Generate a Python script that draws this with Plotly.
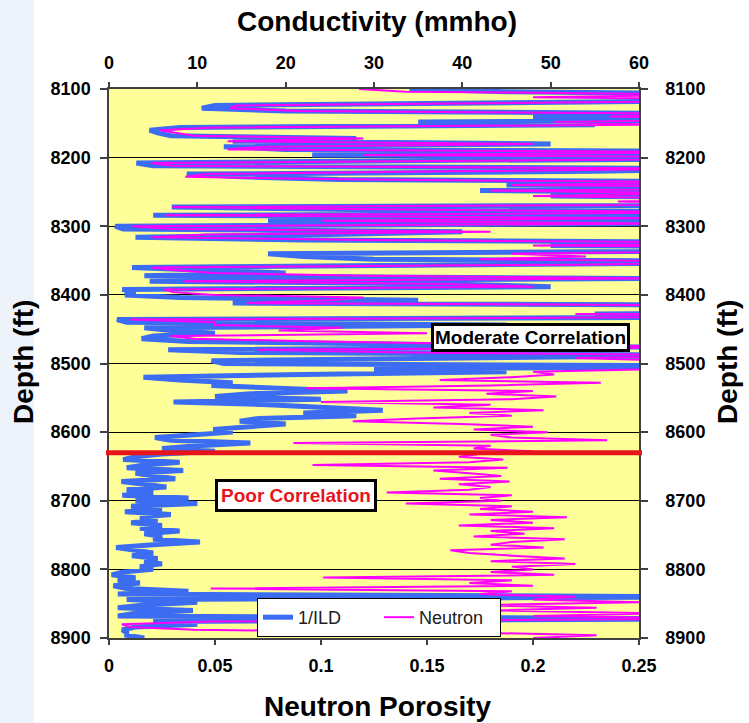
import plotly.graph_objects as go

# Log samples every 4 ft from 8100 to 8900 ft
DEPTH_FT = list(range(8100, 8901, 4))

# 1/ILD conductivity (mmho), one value per depth sample
COND_MMHO = [
    34, 45, 75, 62, 80, 40, 12, 10.5, 20, 70,
    48, 90, 35, 55, 8, 4.6, 5.5, 7, 28, 14,
    50, 13, 20, 85, 23, 100, 40, 3.1, 5, 70,
    55, 8.8, 15, 26, 80, 45, 90, 42, 75, 50,
    85, 60, 95, 7.1, 30, 90, 5, 70, 18, 65,
    0.7, 1.6, 40, 25, 3, 22, 80, 50, 100, 70,
    18, 22, 30, 85, 45, 2.6, 10.7, 20, 4, 60,
    4.6, 38, 50, 1.5, 3, 1.8, 8, 35, 14, 90,
    75, 100, 55, 80, 0.9, 2, 45, 4, 7, 12,
    5, 3.7, 9, 35, 60, 6.7, 15, 70, 40, 11.6,
    13, 75, 30, 45, 22, 3.9, 8, 14, 11.6, 20,
    27, 16, 12, 24, 7.3, 18, 25, 31, 22, 28,
    17, 14.8, 20, 16, 11.8, 14, 9, 5.2, 7, 16,
    10, 6, 12, 6, 3, 1.6, 8, 4, 2, 8.4,
    3, 5, 7.5, 1.4, 4, 6.5, 2, 5, 1.5, 9,
    3, 10, 2.5, 6, 1.8, 7, 3.5, 5.5, 2.5, 6,
    3.5, 8, 4, 6, 5, 10.3, 5, 0.8, 3, 5,
    2.6, 5.5, 4, 6, 3.5, 5, 1.5, 0.3, 3, 1,
    3.5, 0.5, 2, 9, 1, 70, 2, 10, 4, 1,
    9.5, 3, 1, 70, 5, 10, 3, 1.5, 2, 2,
    4,
]

# Neutron porosity (fraction), one value per depth sample
NPHI = [
    0.118, 0.14, 0.3, 0.2, 0.35, 0.19, 0.06, 0.057, 0.09, 0.28,
    0.236, 0.3, 0.21, 0.26, 0.05, 0.024, 0.033, 0.04, 0.12, 0.056,
    0.2, 0.074, 0.056, 0.3, 0.12, 0.35, 0.2, 0.02, 0.03, 0.29,
    0.162, 0.046, 0.036, 0.12, 0.3, 0.19, 0.35, 0.18, 0.28, 0.2,
    0.3, 0.24, 0.32, 0.03, 0.15, 0.3, 0.027, 0.26, 0.1, 0.27,
    0.011, 0.03, 0.18, 0.046, 0.02, 0.12, 0.32, 0.2, 0.4, 0.28,
    0.19, 0.225, 0.175, 0.3, 0.22, 0.02, 0.032, 0.049, 0.12, 0.26,
    0.035, 0.16, 0.2, 0.026, 0.03, 0.05, 0.12, 0.104, 0.065, 0.35,
    0.3, 0.4, 0.22, 0.3, 0.01, 0.05, 0.05, 0.11, 0.08, 0.15,
    0.029, 0.04, 0.1, 0.18, 0.3, 0.07, 0.14, 0.3, 0.22, 0.27,
    0.3, 0.32, 0.26, 0.2, 0.21, 0.19, 0.156, 0.232, 0.18, 0.093,
    0.2, 0.178, 0.211, 0.19, 0.1, 0.18, 0.153, 0.205, 0.17, 0.19,
    0.145, 0.115, 0.166, 0.2, 0.172, 0.207, 0.18, 0.19, 0.235, 0.087,
    0.18, 0.172, 0.2, 0.175, 0.165, 0.186, 0.17, 0.096, 0.188, 0.153,
    0.17, 0.185, 0.156, 0.189, 0.165, 0.18, 0.17, 0.131, 0.19, 0.175,
    0.185, 0.14, 0.19, 0.175, 0.2, 0.17, 0.216, 0.18, 0.2, 0.165,
    0.21, 0.18, 0.196, 0.172, 0.215, 0.19, 0.18, 0.205, 0.161, 0.17,
    0.19, 0.215, 0.18, 0.22, 0.19, 0.2, 0.18, 0.21, 0.101, 0.19,
    0.17, 0.2, 0.048, 0.19, 0.175, 0.22, 0.2, 0.25, 0.17, 0.23,
    0.18, 0.26, 0.2, 0.3, 0.048, 0.006, 0.01, 0.04, 0.17, 0.23,
    0.2,
]

# Depth of the boundary between the two correlation zones
CUTOFF_DEPTH = 8630

DEPTH_TICKS = list(range(8100, 8901, 100))
COND_TICKS = [0, 10, 20, 30, 40, 50, 60]
NPHI_TICKS = [0, 0.05, 0.1, 0.15, 0.2, 0.25]

BLUE = "#3B6CF2"
MAGENTA = "#FF00FF"
RED = "#E8141C"
PLOT_BG = "#FFFF99"
AXIS_COLOR = "#404040"
FONT = "Liberation Sans, Arial, sans-serif"

W, H = 749, 723
M_L, M_R, M_T, M_B = 109, 110, 89, 85
PW, PH = W - M_L - M_R, H - M_T - M_B


def px_x(x):
    """Convert a horizontal pixel position to paper coordinates."""
    return (x - M_L) / PW


def px_y(y):
    """Convert a vertical pixel position to paper coordinates."""
    return 1 - (y - M_T) / PH


fig = go.Figure()

# Conductivity on the top axis, neutron on the bottom axis; the neutron
# trace also carries the right-hand depth axis.
fig.add_trace(go.Scatter(
    x=COND_MMHO, y=DEPTH_FT, name="1/ILD", mode="lines",
    line=dict(color=BLUE, width=5),
    xaxis="x", yaxis="y",
))
fig.add_trace(go.Scatter(
    x=NPHI, y=DEPTH_FT, name="Neutron", mode="lines",
    line=dict(color=MAGENTA, width=2),
    xaxis="x2", yaxis="y2",
))

tick_font = dict(family=FONT, size=18, color="black", weight="bold")
common_axis = dict(
    showline=True, linecolor=AXIS_COLOR, linewidth=1.5,
    ticks="outside", tickcolor=AXIS_COLOR, tickwidth=1.5,
    zeroline=False, tickfont=tick_font,
)

fig.update_layout(
    width=W, height=H,
    margin=dict(l=M_L, r=M_R, t=M_T, b=M_B, pad=0),
    paper_bgcolor="white",
    plot_bgcolor=PLOT_BG,
    showlegend=True,
    xaxis=dict(
        range=[0, 60], side="top", anchor="y",
        tickvals=COND_TICKS, ticklen=5, showgrid=False,
        ticklabelstandoff=6, **common_axis,
    ),
    xaxis2=dict(
        range=[0, 0.25], side="bottom", anchor="y", overlaying="x",
        tickvals=NPHI_TICKS, ticklen=5, showgrid=False,
        ticklabelstandoff=6, **common_axis,
    ),
    yaxis=dict(
        range=[8900, 8100], side="left", anchor="x",
        tickvals=DEPTH_TICKS, tickformat="d", ticklen=7,
        showgrid=True, gridcolor="black", gridwidth=1,
        ticklabelstandoff=6, **common_axis,
    ),
    yaxis2=dict(
        range=[8900, 8100], side="right", anchor="x2", overlaying="y",
        tickvals=DEPTH_TICKS, tickformat="d", ticklen=7,
        showgrid=False, ticklabelstandoff=14, **common_axis,
    ),
    legend=dict(
        orientation="h",
        x=px_x(257), xanchor="left",
        y=px_y(637), yanchor="bottom",
        bgcolor="white", bordercolor="black", borderwidth=1,
        font=dict(family=FONT, size=18, color="#202020"),
        itemwidth=30, traceorder="normal",
        entrywidth=76, entrywidthmode="pixels",
    ),
)

# Light panel down the left edge of the page
fig.add_shape(
    type="rect", xref="paper", yref="paper", layer="below",
    x0=px_x(0), x1=px_x(34), y0=px_y(H), y1=px_y(0),
    fillcolor="#EDF2FB", line=dict(width=0),
)

# Zone boundary line
fig.add_shape(
    type="line", xref="paper", yref="y", layer="above",
    x0=px_x(106), x1=px_x(642), y0=CUTOFF_DEPTH, y1=CUTOFF_DEPTH,
    line=dict(color=RED, width=5),
)

title_font = dict(family=FONT, size=28, color="black", weight="bold")
centered = dict(xref="paper", yref="paper", showarrow=False,
                xanchor="center", yanchor="middle", font=title_font)
fig.add_annotation(text="Conductivity (mmho)", x=px_x(377), y=px_y(22), **centered)
fig.add_annotation(text="Neutron Porosity", x=px_x(378), y=px_y(706), **centered)
fig.add_annotation(text="Depth (ft)", x=px_x(23), y=px_y(362), textangle=-90, **centered)
fig.add_annotation(text="Depth (ft)", x=px_x(727), y=px_y(362), textangle=-90, **centered)

label_font = dict(family=FONT, size=19, weight="bold")
fig.add_annotation(text="Moderate Correlation", xref="paper", yref="y",
                   x=px_x(530), y=8462, showarrow=False,
                   xanchor="center", yanchor="middle",
                   font=dict(color="black", **label_font),
                   bgcolor="white", bordercolor="black", borderwidth=3,
                   borderpad=1)
fig.add_annotation(text="Poor Correlation", xref="paper", yref="y",
                   x=px_x(296), y=8692, showarrow=False,
                   xanchor="center", yanchor="middle",
                   font=dict(color=RED, **label_font),
                   bgcolor="white", bordercolor="black", borderwidth=3,
                   borderpad=3)

fig.write_html("out.html")
